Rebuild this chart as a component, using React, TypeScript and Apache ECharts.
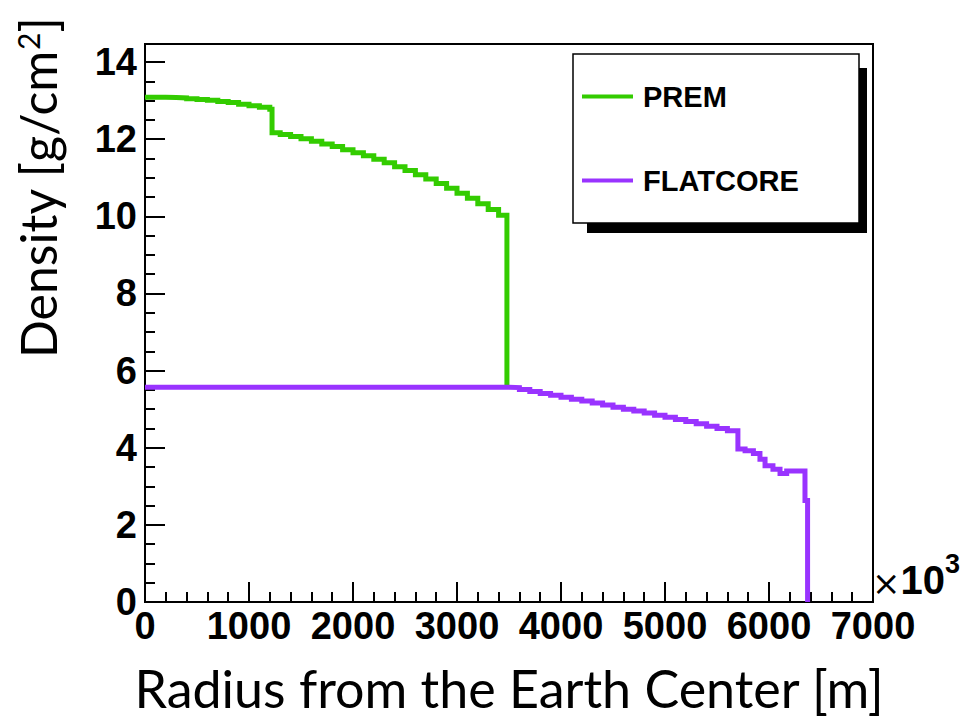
import React, { useEffect, useRef } from "react";
import * as echarts from "echarts";

// PREM density profile (radius in km, density in g/cm^3); each value holds until the next radius
const premRadius = [
  0, 100, 200, 300, 400, 500, 600, 700, 800, 900, 1000, 1100, 1200, 1221.5,
  1300, 1400, 1500, 1600, 1700, 1800, 1900, 2000, 2100, 2200, 2300, 2400,
  2500, 2600, 2700, 2800, 2900, 3000, 3100, 3200, 3300, 3400, 3480,
];
const premDensity = [
  13.09, 13.09, 13.08, 13.07, 13.05, 13.03, 13.01, 12.98, 12.95, 12.91, 12.87,
  12.83, 12.78, 12.17, 12.12, 12.07, 12.01, 11.95, 11.88, 11.81, 11.73, 11.65,
  11.57, 11.48, 11.39, 11.29, 11.19, 11.08, 10.97, 10.85, 10.73, 10.6, 10.47,
  10.33, 10.18, 10.03, 5.57,
];

// Flat-core model: constant core density, PREM mantle and crust outside
const flatRadius = [
  0, 3500, 3600, 3700, 3800, 3900, 4000, 4100, 4200, 4300, 4400, 4500, 4600,
  4700, 4800, 4900, 5000, 5100, 5200, 5300, 5400, 5500, 5600, 5701, 5770, 5850,
  5913, 5962, 6038, 6106, 6170, 6346, 6371,
];
const flatDensity = [
  5.57, 5.56, 5.51, 5.46, 5.41, 5.36, 5.31, 5.26, 5.21, 5.16, 5.11, 5.05, 5.0,
  4.95, 4.9, 4.84, 4.79, 4.73, 4.68, 4.62, 4.56, 4.5, 4.44, 3.97, 3.92, 3.85,
  3.7, 3.53, 3.44, 3.33, 3.4, 2.63, 0,
];

const seriesNames = ["PREM", "FLATCORE"];
const seriesColors = ["#33cc00", "#9933ff"];

const xTitle = "Radius from the Earth Center [m]";

const tickFont = "'Liberation Sans', Arial, Helvetica, sans-serif";
const titleFont = "Lato, 'Open Sans', sans-serif";

const zip = (xs: number[], ys: number[]) => xs.map((x, i) => [x, ys[i]]);

export default function App() {
  const ref = useRef<HTMLDivElement>(null);

  useEffect(() => {
    if (!ref.current) return;
    const chart = echarts.init(ref.current, undefined, { renderer: "svg" });

    const tickLine = { color: "#000", width: 2 };
    const legendText = {
      fontFamily: tickFont,
      fontWeight: "bold" as const,
      fontSize: 29,
      color: "#000",
      padding: [0, 0, 0, 5],
    };

    chart.setOption({
      animation: false,
      backgroundColor: "#fff",
      grid: {
        left: 145,
        right: 87,
        top: 44,
        bottom: 121,
        show: true,
        borderColor: "#000",
        borderWidth: 2,
        backgroundColor: "transparent",
      },
      xAxis: {
        type: "value",
        min: 0,
        max: 7000,
        interval: 1000,
        axisLine: { lineStyle: tickLine },
        axisTick: { inside: true, length: 20, lineStyle: tickLine },
        minorTick: { show: true, splitNumber: 5, length: 10, lineStyle: tickLine },
        splitLine: { show: false },
        minorSplitLine: { show: false },
        axisLabel: {
          margin: 5,
          formatter: (v: number) => String(v),
          fontFamily: tickFont,
          fontWeight: "bold",
          fontSize: 38,
          color: "#000",
        },
        name: xTitle,
        nameLocation: "middle",
        nameGap: 60,
        nameTextStyle: { fontFamily: titleFont, fontSize: 52, color: "#000" },
      },
      yAxis: [
        {
          type: "value",
          min: 0,
          max: 14.47,
          interval: 2,
          axisLine: { show: true, lineStyle: tickLine },
          axisTick: { show: true, inside: true, length: 20, lineStyle: tickLine },
          splitLine: { show: false },
          axisLabel: {
            margin: 8,
            showMaxLabel: false,
            fontFamily: tickFont,
            fontWeight: "bold",
            fontSize: 38,
            color: "#000",
          },
        },
        {
          type: "value",
          min: 0,
          max: 14.47,
          interval: 0.5,
          position: "left",
          axisLine: { show: false },
          axisTick: { show: true, inside: true, length: 10, lineStyle: tickLine },
          axisLabel: { show: false },
          splitLine: { show: false },
        },
      ],
      legend: [
        {
          data: [seriesNames[0]],
          left: 582,
          top: 82,
          padding: 0,
          icon: "rect",
          itemWidth: 51,
          itemHeight: 4,
          selectedMode: false,
          textStyle: legendText,
          z: 20,
        },
        {
          data: [seriesNames[1]],
          left: 582,
          top: 166,
          padding: 0,
          icon: "rect",
          itemWidth: 51,
          itemHeight: 4,
          selectedMode: false,
          textStyle: legendText,
          z: 20,
        },
      ],
      graphic: [
        {
          type: "rect",
          z: 10,
          shape: { x: 587, y: 68, width: 280, height: 165 },
          style: { fill: "#000" },
        },
        {
          type: "rect",
          z: 11,
          shape: { x: 573, y: 54, width: 286, height: 169 },
          style: { fill: "#fff", stroke: "#000", lineWidth: 1.5 },
        },
        {
          type: "text",
          x: 38,
          y: 188,
          rotation: Math.PI / 2,
          style: {
            text: "{t|Density [g/cm}{s|2}{t|]}",
            align: "center",
            verticalAlign: "middle",
            rich: {
              t: { fontFamily: titleFont, fontSize: 50, color: "#000" },
              s: {
                fontFamily: titleFont,
                fontSize: 30,
                color: "#000",
                verticalAlign: "top",
              },
            },
          },
        },
        {
          // axis exponent: ×10^3
          type: "text",
          x: 872,
          y: 575,
          style: {
            text: "{m|×}{n|10}{e|3}",
            align: "left",
            verticalAlign: "middle",
            rich: {
              m: {
                fontFamily: "'DejaVu Sans', sans-serif",
                fontSize: 34,
                lineHeight: 40,
                color: "#000",
                verticalAlign: "bottom",
              },
              n: {
                fontFamily: tickFont,
                fontWeight: "bold",
                fontSize: 40,
                lineHeight: 50,
                color: "#000",
                verticalAlign: "bottom",
              },
              e: {
                fontFamily: tickFont,
                fontWeight: "bold",
                fontSize: 27,
                lineHeight: 27,
                color: "#000",
                verticalAlign: "top",
              },
            },
          },
        },
      ],
      series: [
        {
          name: seriesNames[0],
          type: "line",
          step: "end",
          data: zip(premRadius, premDensity),
          showSymbol: false,
          symbol: "none",
          color: seriesColors[0],
          lineStyle: { width: 5, color: seriesColors[0], join: "miter", cap: "butt" },
          silent: true,
          z: 3,
        },
        {
          name: seriesNames[1],
          type: "line",
          step: "end",
          data: zip(flatRadius, flatDensity),
          showSymbol: false,
          symbol: "none",
          color: seriesColors[1],
          lineStyle: { width: 5, color: seriesColors[1], join: "miter", cap: "butt" },
          silent: true,
          z: 4,
        },
      ],
    });

    return () => chart.dispose();
  }, []);

  return (
    <div
      ref={ref}
      style={{ position: "fixed", left: 0, top: 0, width: 960, height: 723 }}
    />
  );
}
